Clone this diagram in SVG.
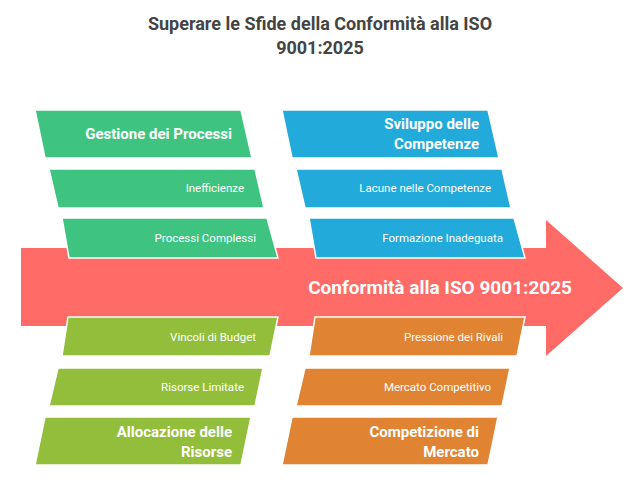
<svg xmlns="http://www.w3.org/2000/svg" width="640" height="503" viewBox="0 0 640 503">
<style>
.t{font-family:Roboto,"Liberation Sans",sans-serif;fill:#fff;text-anchor:end}
.h{font-size:15px;font-weight:bold}
.s{font-size:11.5px}
.g{fill:#3ec480}.b{fill:#22aadb}.l{fill:#92be3b}.o{fill:#e08332}
polygon{stroke:#fff;stroke-width:1.5}
</style>
<rect width="640" height="503" fill="#fff"/>
<g id="title" font-family="Roboto,'Liberation Sans',sans-serif" font-size="18" font-weight="bold" fill="#444" text-anchor="middle">
<text x="320" y="30">Superare le Sfide della Conformità alla ISO</text>
<text x="320" y="54">9001:2025</text>
</g>
<g id="spine">
<polygon points="21,248 546,248 546,220 623,288 546,356 546,326 21,326" fill="#ff6b66" style="stroke:none"/>
<text class="t" x="572" y="294" font-size="19" font-weight="bold">Conformità alla ISO 9001:2025</text>
</g>
<g id="processi">
<polygon class="g" points="35,110 241,110 252,158 45,158"/>
<text class="t h" x="232" y="139">Gestione dei Processi</text>
</g>
<g id="inefficienze">
<polygon class="g" points="49,169 255,169 264,208 58,208"/>
<text class="t s" x="244" y="192">Inefficienze</text>
</g>
<g id="complessi">
<polygon class="g" points="62,218 267,218 278,258 69,258"/>
<text class="t s" x="256" y="242">Processi Complessi</text>
</g>
<g id="competenze">
<polygon class="b" points="282,110 488,110 499,158 292,158"/>
<text class="t h" x="479" y="129">Sviluppo delle</text>
<text class="t h" x="479" y="149">Competenze</text>
</g>
<g id="lacune">
<polygon class="b" points="296,169 502,169 511,208 305,208"/>
<text class="t s" x="491" y="192">Lacune nelle Competenze</text>
</g>
<g id="formazione">
<polygon class="b" points="309,218 514,218 525,258 316,258"/>
<text class="t s" x="503" y="242">Formazione Inadeguata</text>
</g>
<g id="vincoli">
<polygon class="l" points="68,317 278,317 270,356 62,356"/>
<text class="t s" x="256" y="341">Vincoli di Budget</text>
</g>
<g id="limitate">
<polygon class="l" points="58,368 263,368 255,406 49,406"/>
<text class="t s" x="244" y="391">Risorse Limitate</text>
</g>
<g id="risorse">
<polygon class="l" points="45,417 251,417 241,465 35,465"/>
<text class="t h" x="232" y="437">Allocazione delle</text>
<text class="t h" x="232" y="457">Risorse</text>
</g>
<g id="rivali">
<polygon class="o" points="315,317 525,317 517,356 309,356"/>
<text class="t s" x="503" y="341">Pressione dei Rivali</text>
</g>
<g id="mercato">
<polygon class="o" points="305,368 510,368 502,406 296,406"/>
<text class="t s" x="491" y="391">Mercato Competitivo</text>
</g>
<g id="competizione">
<polygon class="o" points="292,417 498,417 488,465 282,465"/>
<text class="t h" x="479" y="437">Competizione di</text>
<text class="t h" x="479" y="457">Mercato</text>
</g>
<g id="connectors"/>
</svg>
